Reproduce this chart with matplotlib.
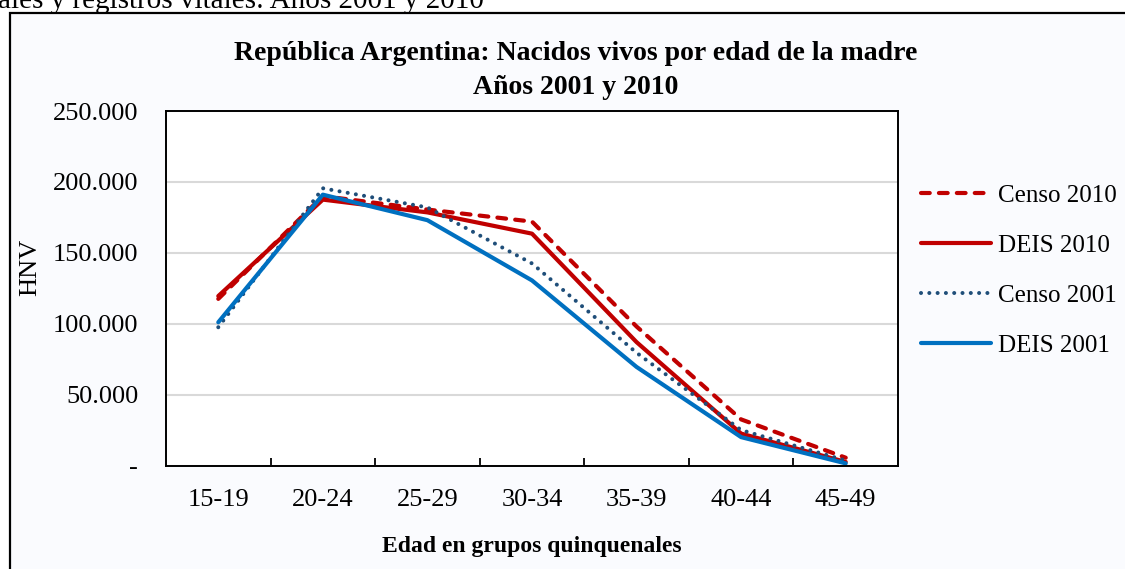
import matplotlib.pyplot as plt
from matplotlib.patches import Rectangle

# data
edades = ['15-19', '20-24', '25-29', '30-34', '35-39', '40-44', '45-49']
censo_2010 = [117500, 190000, 180500, 172000, 98000, 32500, 5500]
deis_2010 = [119500, 187500, 178500, 163500, 87000, 22500, 2500]
censo_2001 = [97500, 195500, 182000, 142500, 79500, 25000, 3500]
deis_2001 = [101000, 191000, 173000, 130500, 69500, 20000, 1500]
yticks = [0, 50000, 100000, 150000, 200000, 250000]
ytick_labels = ['-', '50.000', '100.000', '150.000', '200.000', '250.000']

plt.rcParams['font.family'] = ['Liberation Serif', 'DejaVu Serif']

fig = plt.figure(figsize=(11.25, 5.69), dpi=100)
fig.patch.set_facecolor('white')

# outer chart frame (cut by the page edges)
frame = Rectangle((10 / 1125, -0.1), 1.2, 1 - 13 / 569 + 0.1, transform=fig.transFigure,
                  facecolor='#fafbfe', edgecolor='black', linewidth=1.6, zorder=-5)
fig.patches.append(frame)

# leftover line of the document text above the chart
fig.text(-0.002, 1 - 7.5 / 569, 'ales y registros vitales: Años 2001 y 2010',
         fontsize=21, va='baseline', ha='left')

ax = fig.add_axes([166 / 1125, 1 - 465.5 / 569, 732 / 1125, 354.5 / 569])
ax.set_zorder(2)
ax.set_facecolor('white')

x = range(len(edades))
red = '#C00000'
ax.plot(x, censo_2010, color=red, lw=3, linestyle=(0, (2.1, 2.2)),
        dash_capstyle='round', label='Censo 2010')
ax.plot(x, deis_2010, color=red, lw=3, solid_capstyle='round', label='DEIS 2010')
ax.plot(x, censo_2001, color='#1F4E79', lw=2.9, linestyle=(0, (0.01, 2.05)),
        dash_capstyle='round', label='Censo 2001')
ax.plot(x, deis_2001, color='#0070C0', lw=3, solid_capstyle='round', label='DEIS 2001')

ax.set_xlim(-0.5, len(edades) - 0.5)
ax.set_ylim(0, 250000)
ax.set_yticks(yticks)
ax.set_yticklabels(ytick_labels, fontsize=19)
ax.set_xticks(x)
ax.set_xticklabels(edades, fontsize=19)
ax.set_xticks([i + 0.5 for i in range(len(edades) - 1)], minor=True)
ax.tick_params(axis='x', which='major', length=0, pad=17)
ax.tick_params(axis='x', which='minor', direction='in', length=6, width=1.3)
ax.tick_params(axis='y', length=0, pad=20)
ax.yaxis.grid(True, color='#D9D9D9', lw=1.5)
ax.set_axisbelow(True)
for s in ax.spines.values():
    s.set_linewidth(1.4)

ax.set_ylabel('HNV', fontsize=19)
ax.yaxis.set_label_coords(-0.171, 0.56)
ax.set_xlabel('Edad en grupos quinquenales', fontsize=17, fontweight='bold', labelpad=18)

fig.text(576 / 1125, 1 - 53 / 569, 'República Argentina: Nacidos vivos por edad de la madre',
         fontsize=20, fontweight='bold', ha='center', va='center')
fig.text(576 / 1125, 1 - 87 / 569, 'Años 2001 y 2010',
         fontsize=20, fontweight='bold', ha='center', va='center')

ax.legend(loc='upper left', bbox_to_anchor=(898 / 1125, 1 - 162 / 569),
          bbox_transform=fig.transFigure, frameon=False, fontsize=18,
          handlelength=2.8, handletextpad=0.28, labelspacing=1.1)

fig.savefig('out.png', dpi=100, facecolor=fig.get_facecolor())
